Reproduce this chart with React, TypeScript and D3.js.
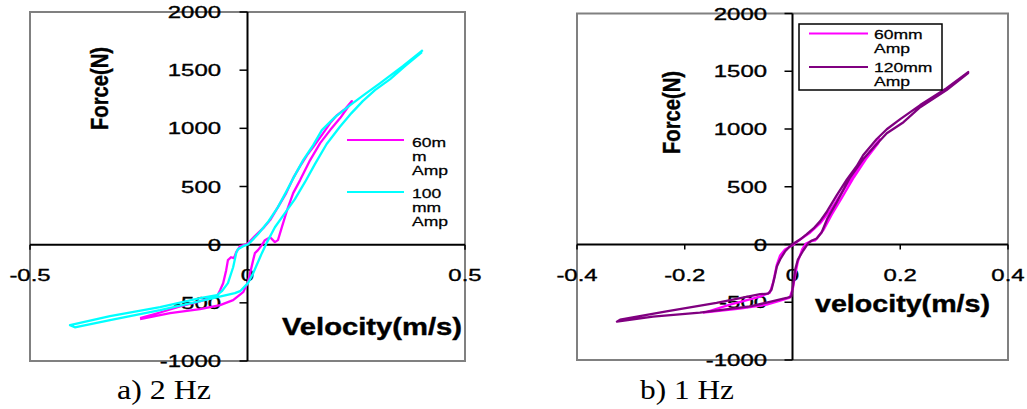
import React from 'react';
import * as d3 from 'd3';

// ---------- data ----------
const yTicks = [-1000, -500, 0, 500, 1000, 1500, 2000];
const xTicksA = [-0.5, 0, 0.5];
const xTicksB = [-0.4, -0.2, 0, 0.2, 0.4];

const captionA = 'a) 2 Hz';
const captionB = 'b) 1 Hz';

const legendA = [['60m', 'm', 'Amp'], ['100', 'mm', 'Amp']];
const legendB = [['60mm', 'Amp'], ['120mm', 'Amp']];

// 2 Hz, 60 mm amplitude  [velocity m/s, force N]
const hz2Amp60: [number, number][] = [
  [-0.247, -632], [-0.201, -583], [-0.155, -530], [-0.110, -487], [-0.07, -443],
  [-0.063, -391], [-0.056, -331], [-0.049, -219], [-0.045, -133], [-0.038, -108],
  [-0.031, -116], [-0.026, -65], [-0.017, -13], [-0.001, 4], [0.017, 73],
  [0.036, 142], [0.052, 211], [0.070, 323], [0.089, 443], [0.105, 572],
  [0.121, 675], [0.137, 770], [0.151, 839], [0.174, 959], [0.190, 1045],
  [0.206, 1114], [0.224, 1165], [0.240, 1234],
  [0.231, 1183], [0.213, 1088], [0.190, 985], [0.167, 873], [0.144, 727],
  [0.121, 555], [0.105, 443], [0.091, 297], [0.079, 151], [0.070, 39],
  [0.063, 22], [0.052, 64], [0.040, 39], [0.033, -4], [0.024, -47],
  [0.017, -73], [0.013, -133], [0.006, -245], [0.001, -323], [-0.010, -408],
  [-0.033, -477], [-0.063, -520], [-0.109, -555], [-0.178, -589], [-0.247, -641],
];

// 2 Hz, 100 mm amplitude
const hz2Amp100: [number, number][] = [
  [0.403, 1673], [0.357, 1535], [0.305, 1389], [0.270, 1294], [0.236, 1200],
  [0.201, 1096], [0.171, 985], [0.151, 856], [0.128, 727], [0.109, 598],
  [0.091, 469], [0.070, 323], [0.047, 194], [0.024, 90], [0.002, 4],
  [-0.010, -13], [-0.022, -39], [-0.026, -73], [-0.033, -194], [-0.045, -331],
  [-0.059, -400], [-0.070, -434], [-0.109, -460], [-0.201, -537], [-0.316, -615],
  [-0.408, -692],
  [-0.397, -710], [-0.316, -649], [-0.201, -563], [-0.109, -486], [-0.029, -417],
  [-0.017, -400], [0.001, -331], [0.013, -245], [0.033, -73], [0.045, 22],
  [0.063, 150], [0.086, 271], [0.109, 391], [0.132, 537], [0.155, 692],
  [0.182, 865], [0.212, 1011], [0.239, 1131], [0.265, 1234], [0.293, 1329],
  [0.328, 1423], [0.362, 1535], [0.401, 1656],
];

// 1 Hz, 60 mm amplitude
const hz1Amp60: [number, number][] = [
  [-0.166, -593], [-0.116, -521], [-0.060, -451], [-0.042, -417], [-0.036, -330],
  [-0.029, -174], [-0.023, -95], [-0.014, -43], [-0.001, -9], [0.014, 43],
  [0.033, 104], [0.051, 182], [0.070, 295], [0.088, 425], [0.107, 564],
  [0.125, 694], [0.144, 807], [0.162, 911],
  [0.159, 877], [0.136, 738], [0.114, 582], [0.092, 408], [0.073, 260],
  [0.058, 130], [0.042, 35], [0.033, 26], [0.025, 9], [0.018, -43],
  [0.010, -148], [0.005, -260], [0.001, -373], [-0.005, -460], [-0.023, -486],
  [-0.048, -521], [-0.098, -556], [-0.166, -590],
];

// 1 Hz, 120 mm amplitude
const hz1Amp120: [number, number][] = [
  [0.002, 9], [0.014, 43], [0.026, 87], [0.039, 139], [0.051, 200],
  [0.064, 286], [0.082, 425], [0.101, 564], [0.119, 677], [0.131, 773],
  [0.156, 911], [0.175, 998], [0.200, 1085], [0.237, 1207], [0.286, 1354],
  [0.326, 1493],
  [0.326, 1484], [0.286, 1337], [0.237, 1189], [0.206, 1059], [0.175, 963],
  [0.156, 868], [0.131, 738], [0.107, 582], [0.082, 365], [0.064, 217],
  [0.054, 104], [0.045, 52], [0.036, 35], [0.029, 9], [0.020, -52],
  [0.010, -130], [0.005, -217], [0.001, -356], [-0.002, -449], [-0.011, -463],
  [-0.048, -503], [-0.079, -536], [-0.172, -590], [-0.259, -625], [-0.326, -668],
  [-0.320, -651], [-0.234, -579], [-0.141, -506], [-0.060, -430], [-0.045, -425],
  [-0.039, -391], [-0.033, -278], [-0.029, -191], [-0.023, -130], [-0.014, -61],
  [-0.005, -17], [0.002, 9],
];

const MAGENTA = '#FF00FF';
const CYAN = '#00FFFF';
const PURPLE = '#800080';

type Series = { data: [number, number][]; color: string };

type PanelProps = {
  xDomain: [number, number];
  xRange: [number, number];
  yRange: [number, number];
  xTicks: number[];
  series: Series[];
  yLabelRight: number;
  forceTitle: { x: number; y: number };
  velTitle: { text: string; x: number; y: number; len: number };
  caption: { text: string; x: number };
  legend: React.ReactNode;
};

const SANS = 'Liberation Sans, Arial, sans-serif';

function Panel(p: PanelProps) {
  const x = d3.scaleLinear().domain(p.xDomain).range(p.xRange);
  const y = d3.scaleLinear().domain([-1000, 2000]).range(p.yRange);
  const line = d3
    .line<[number, number]>()
    .x((d) => x(d[0]))
    .y((d) => y(d[1]));
  const x0 = x(0);
  const y0 = y(0);
  return (
    <g>
      <rect
        x={p.xRange[0]}
        y={p.yRange[1]}
        width={p.xRange[1] - p.xRange[0]}
        height={p.yRange[0] - p.yRange[1]}
        fill="none"
        stroke="#808080"
        strokeWidth={2}
      />
      {/* axes */}
      <line x1={p.xRange[0]} x2={p.xRange[1]} y1={y0} y2={y0} stroke="#000" strokeWidth={2} />
      <line x1={x0} x2={x0} y1={p.yRange[0]} y2={p.yRange[1]} stroke="#000" strokeWidth={2} />
      {yTicks.map((t) => (
        <g key={'yt' + t}>
          <line x1={x0 - 8} x2={x0} y1={y(t)} y2={y(t)} stroke="#000" strokeWidth={1.5} />
          <text
            transform={`translate(${p.yLabelRight},${y(t) + 6}) scale(1.45,1)`}
            textAnchor="end"
            fontFamily={SANS}
            fontSize={16.5}
            fill="#000"
            stroke="#000"
            strokeWidth={0.35}
          >
            {String(t)}
          </text>
        </g>
      ))}
      {p.xTicks.map((t) => (
        <g key={'xt' + t}>
          <line x1={x(t)} x2={x(t)} y1={y0} y2={y0 + 5} stroke="#000" strokeWidth={1.5} />
          <text
            transform={`translate(${x(t)},${y0 + 36}) scale(1.45,1)`}
            textAnchor="middle"
            fontFamily={SANS}
            fontSize={16.5}
            fill="#000"
            stroke="#000"
            strokeWidth={0.35}
          >
            {String(t)}
          </text>
        </g>
      ))}
      {/* titles */}
      <text
        transform={`translate(${p.forceTitle.x},${p.forceTitle.y}) rotate(-90)`}
        textAnchor="middle"
        fontFamily={SANS}
        fontWeight="bold"
        fontSize={24}
        textLength={83}
        lengthAdjust="spacingAndGlyphs"
        stroke="#000"
        strokeWidth={0.4}
      >
        Force(N)
      </text>
      <text
        x={p.velTitle.x}
        y={p.velTitle.y}
        fontFamily={SANS}
        fontWeight="bold"
        fontSize={23.5}
        textLength={p.velTitle.len}
        lengthAdjust="spacingAndGlyphs"
        stroke="#000"
        strokeWidth={0.4}
      >
        {p.velTitle.text}
      </text>
      {/* series */}
      {p.series.map((s, i) => (
        <path
          key={'s' + i}
          d={line(s.data) || ''}
          fill="none"
          stroke={s.color}
          strokeWidth={2.3}
          strokeLinejoin="round"
        />
      ))}
      {p.legend}
      <text
        x={p.caption.x}
        y={399}
        fontFamily="Liberation Serif, Times New Roman, serif"
        fontSize={28}
        textLength={94}
        lengthAdjust="spacingAndGlyphs"
      >
        {p.caption.text}
      </text>
    </g>
  );
}

function LegendText({ lines, x, y0, step }: { lines: string[]; x: number; y0: number; step: number }) {
  return (
    <g>
      {lines.map((l, i) => (
        <text
          key={i}
          transform={`translate(${x},${y0 + i * step}) scale(1.3,1)`}
          fontFamily={SANS}
          fontSize={13.5}
          stroke="#000"
          strokeWidth={0.25}
        >
          {l}
        </text>
      ))}
    </g>
  );
}

export default function App() {
  const legA = (
    <g>
      <line x1={347} x2={404} y1={140} y2={140} stroke={MAGENTA} strokeWidth={2} />
      <LegendText lines={legendA[0]} x={412} y0={147} step={14} />
      <line x1={347} x2={404} y1={192} y2={192} stroke={CYAN} strokeWidth={2} />
      <LegendText lines={legendA[1]} x={412} y0={198} step={14} />
    </g>
  );
  const legB = (
    <g>
      <rect x={799} y={24} width={143} height={66} fill="#fff" stroke="#000" strokeWidth={1.5} />
      <line x1={809} x2={868} y1={33.5} y2={33.5} stroke={MAGENTA} strokeWidth={2} />
      <LegendText lines={legendB[0]} x={874} y0={39} step={14} />
      <line x1={809} x2={868} y1={67} y2={67} stroke={PURPLE} strokeWidth={2} />
      <LegendText lines={legendB[1]} x={874} y0={72} step={14} />
    </g>
  );
  return (
    <svg
      width={1027}
      height={409}
      style={{ position: 'absolute', left: 0, top: 0, background: '#fff' }}
    >
      <rect x={0} y={0} width={1027} height={409} fill="#fff" />
      <Panel
        xDomain={[-0.5, 0.5]}
        xRange={[30, 465]}
        yRange={[361, 12]}
        xTicks={xTicksA}
        series={[
          { data: hz2Amp60, color: MAGENTA },
          { data: hz2Amp100, color: CYAN },
        ]}
        yLabelRight={221}
        forceTitle={{ x: 108, y: 88.5 }}
        velTitle={{ text: 'Velocity(m/s)', x: 282, y: 335, len: 180 }}
        caption={{ text: captionA, x: 117 }}
        legend={legA}
      />
      <Panel
        xDomain={[-0.4, 0.4]}
        xRange={[577, 1008]}
        yRange={[360, 13.5]}
        xTicks={xTicksB}
        series={[
          { data: hz1Amp60, color: MAGENTA },
          { data: hz1Amp120, color: PURPLE },
        ]}
        yLabelRight={767}
        forceTitle={{ x: 680, y: 112.5 }}
        velTitle={{ text: 'velocity(m/s)', x: 815, y: 312, len: 175 }}
        caption={{ text: captionB, x: 640 }}
        legend={legB}
      />
    </svg>
  );
}
